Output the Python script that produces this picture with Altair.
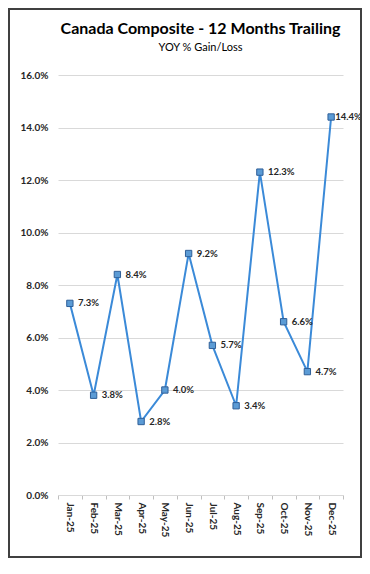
import altair as alt
import pandas as pd

months = ["Jan-25", "Feb-25", "Mar-25", "Apr-25", "May-25", "Jun-25",
          "Jul-25", "Aug-25", "Sep-25", "Oct-25", "Nov-25", "Dec-25"]
yoy = [7.3, 3.8, 8.4, 2.8, 4.0, 9.2, 5.7, 3.4, 12.3, 6.6, 4.7, 14.4]
y_ticks = [0, 2, 4, 6, 8, 10, 12, 14, 16]

df = pd.DataFrame({"month": months, "yoy": yoy})
df["label"] = [f"{v:.1f}%" for v in yoy]
df["last"] = [i == len(months) - 1 for i in range(len(months))]

W, H = 285, 420
PL, PT, PR, PB = 50, 67, 19, 63
FONT = "Lato"

x = alt.X("month:N", sort=months,
          scale=alt.Scale(type="band", paddingInner=0, paddingOuter=0),
          axis=alt.Axis(title=None, labelAngle=90, tickBand="extent", grid=False,
                        domainColor="#d9d9d9", tickColor="#bfbfbf", tickSize=4,
                        labelPadding=3, labelFont=FONT, labelFontWeight="bold",
                        labelFontSize=10, labelColor="#262626"))
y = alt.Y("yoy:Q", scale=alt.Scale(domain=[0, 16], nice=False),
          axis=alt.Axis(title=None, values=y_ticks,
                        labelExpr="format(datum.value, '.1f') + '%'",
                        domain=False, ticks=False, labelPadding=10,
                        gridColor="#d9d9d9", gridWidth=1,
                        labelFont=FONT, labelFontWeight="bold", labelFontSize=10,
                        labelColor="#262626"))

base = alt.Chart(df)
line = base.mark_line(color="#3b8ad8", strokeWidth=2).encode(x=x, y=y)
pts = base.mark_point(shape="square", filled=True, size=40, fill="#5b9bd5",
                      stroke="#2f5f98", strokeWidth=1, opacity=1).encode(x=x, y=y)
txt = base.mark_text(align="left", baseline="middle", dx=8, font=FONT,
                     fontWeight="bold", fontSize=9.5, color="#262626").encode(
    x=x, y=y, text="label:N").transform_filter("!datum.last")
txt_last = base.mark_text(align="left", baseline="middle", dx=4, font=FONT,
                          fontWeight="bold", fontSize=9.5, color="#262626").encode(
    x=x, y=y, text="label:N").transform_filter("datum.last")

frame = alt.Chart(pd.DataFrame({"k": [0]})).mark_rect(
    fillOpacity=0, stroke="#404040", strokeWidth=2).encode(
    x=alt.value(-PL + 1), x2=alt.value(W + PR - 1),
    y=alt.value(-PT + 1), y2=alt.value(H + PB - 1))

chart = alt.layer(line, pts, txt, txt_last, frame).properties(
    width=W, height=H,
    autosize=alt.AutoSizeParams(type="none"),
    padding={"left": PL, "top": PT, "right": PR, "bottom": PB},
    title=alt.TitleParams(
        text="Canada Composite - 12 Months Trailing",
        subtitle="YOY % Gain/Loss",
        font=FONT, fontSize=16, fontWeight="bold", color="#000000",
        subtitleFont=FONT, subtitleFontSize=11, subtitleColor="#000000",
        subtitlePadding=5, anchor="middle", offset=-45),
).configure_view(stroke=None)

chart.save("out.html", embed_options={"renderer": "svg", "actions": False})
